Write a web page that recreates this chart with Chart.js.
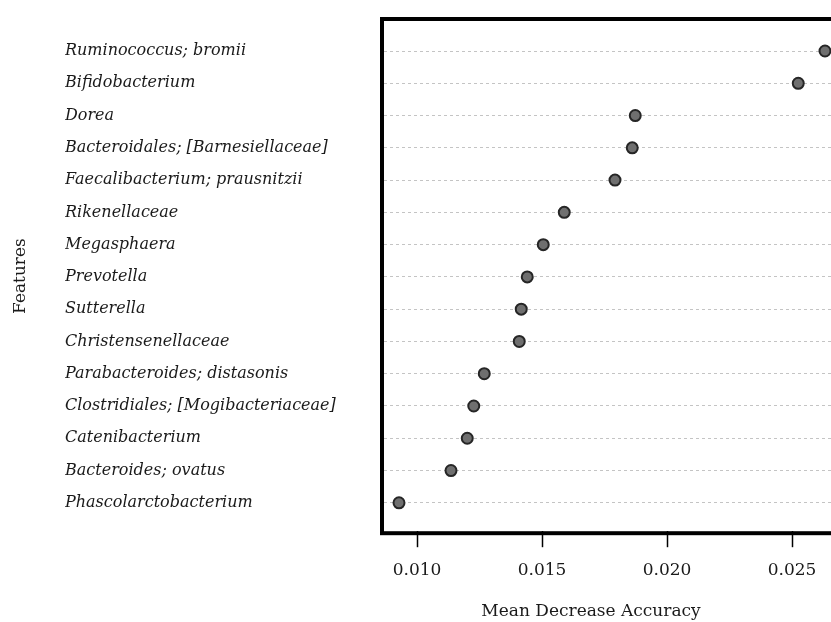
<!DOCTYPE html>
<html>
<head>
<meta charset="utf-8">
<script src="https://cdn.jsdelivr.net/npm/chart.js@4.4.0/dist/chart.umd.min.js"></script>
<style>
  html, body { margin: 0; padding: 0; background: #fff; overflow: hidden; }
  #wrap { width: 1182px; height: 622px; }
</style>
</head>
<body>
<div id="wrap"><canvas id="chart" width="1182" height="622"></canvas></div>
<script>
// features, top to bottom
var features = [
  "Ruminococcus; bromii",
  "Bifidobacterium",
  "Dorea",
  "Bacteroidales; [Barnesiellaceae]",
  "Faecalibacterium; prausnitzii",
  "Rikenellaceae",
  "Megasphaera",
  "Prevotella",
  "Sutterella",
  "Christensenellaceae",
  "Parabacteroides; distasonis",
  "Clostridiales; [Mogibacteriaceae]",
  "Catenibacterium",
  "Bacteroides; ovatus",
  "Phascolarctobacterium"
];
var accuracy = [
  0.02632, 0.02525, 0.01873, 0.01861, 0.01792,
  0.01589, 0.01505, 0.01441, 0.01417, 0.01409,
  0.01269, 0.01227, 0.01201, 0.01136, 0.00928
];
var xTicks = [0.010, 0.015, 0.020, 0.025];

var serif = "'DejaVu Serif', serif";

// thick black box round the plot area
var framePlugin = {
  id: 'frame',
  afterDraw: function (chart) {
    var a = chart.chartArea;
    var ctx = chart.ctx;
    ctx.save();
    ctx.strokeStyle = '#000';
    ctx.lineWidth = 4;
    ctx.strokeRect(a.left - 2, a.top - 2, a.right - a.left + 4, a.bottom - a.top + 4);
    ctx.restore();
  }
};

var points = accuracy.map(function (v, i) { return { x: v, y: i + 1 }; });

new Chart(document.getElementById('chart'), {
  type: 'scatter',
  data: {
    datasets: [{
      data: points,
      pointRadius: 5.5,
      pointHoverRadius: 5.5,
      backgroundColor: '#6f6f6f',
      borderColor: '#262626',
      borderWidth: 2
    }]
  },
  options: {
    responsive: false,
    animation: false,
    events: [],
    layout: { padding: { top: 21, left: 0, right: 0, bottom: 0 } },
    plugins: {
      legend: { display: false },
      tooltip: { enabled: false },
      title: {
        display: true,
        position: 'bottom',
        text: 'Mean Decrease Accuracy',
        color: '#1a1a1a',
        font: { family: serif, size: 17, weight: 'normal' },
        padding: { top: 8, bottom: 0 }
      }
    },
    scales: {
      x: {
        type: 'linear',
        min: 0.00868,
        max: 0.02692,
        afterBuildTicks: function (scale) {
          scale.ticks = xTicks.map(function (v) { return { value: v }; });
        },
        ticks: {
          color: '#1a1a1a',
          padding: 13,
          font: { family: serif, size: 17 },
          callback: function (v) { return Number(v).toFixed(3); }
        },
        grid: {
          drawOnChartArea: false,
          drawTicks: true,
          tickLength: 16,
          tickColor: '#000',
          tickWidth: 1.5
        },
        border: { display: false }
      },
      y: {
        type: 'linear',
        reverse: true,
        min: 0.07,
        max: 15.88,
        weight: 0,
        afterBuildTicks: function (scale) {
          scale.ticks = features.map(function (f, i) { return { value: i + 1 }; });
        },
        afterFit: function (scale) { scale.width = 319; },
        ticks: {
          crossAlign: 'far',
          color: '#1a1a1a',
          font: { family: serif, size: 16, style: 'italic' },
          callback: function (v) { return features[v - 1]; }
        },
        grid: {
          drawTicks: false,
          color: '#c4c4c4',
          lineWidth: 1
        },
        border: { display: false, dash: [3, 3] }
      },
      yTitle: {
        type: 'linear',
        position: 'left',
        weight: 1,
        afterFit: function (scale) { scale.width = 65; },
        ticks: { display: false },
        grid: { display: false },
        border: { display: false },
        title: {
          display: true,
          text: 'Features',
          color: '#1a1a1a',
          font: { family: serif, size: 17 },
          padding: { top: 10, bottom: 0 }
        }
      },
      // empty space right of the plot, cropped off by the window
      yRight: {
        type: 'linear',
        position: 'right',
        afterFit: function (scale) { scale.width = 342; },
        ticks: { display: false },
        grid: { display: false },
        border: { display: false }
      }
    }
  },
  plugins: [framePlugin]
});
</script>
</body>
</html>
